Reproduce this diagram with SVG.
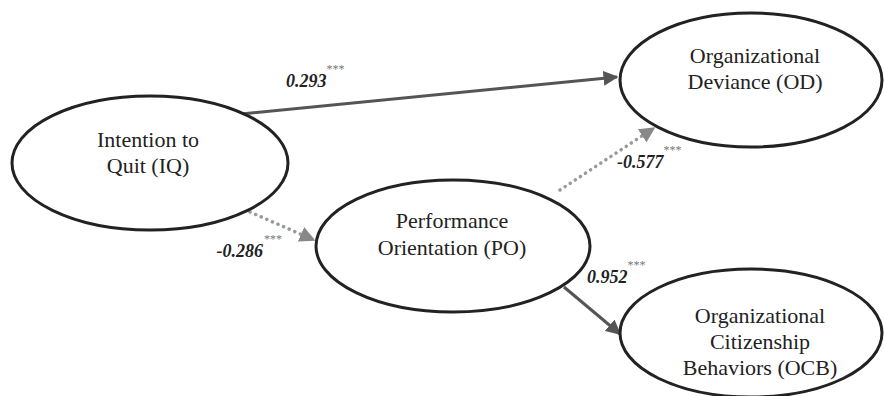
<svg xmlns="http://www.w3.org/2000/svg" width="884" height="396" viewBox="0 0 884 396">
<style>
.node{fill:#fff;stroke:#222;stroke-width:3}
.lbl{font-family:"Liberation Serif","Times New Roman",serif;font-size:22px;fill:#222;text-anchor:middle}
.coef{font-family:"Liberation Serif","Times New Roman",serif;font-size:18px;font-weight:bold;font-style:italic;fill:#222}
.star{font-family:"Liberation Serif","Times New Roman",serif;font-size:12px;font-weight:normal;font-style:normal;fill:#777}
.solid{fill:none;stroke:#555;stroke-width:3}
.dot{fill:none;stroke:#999;stroke-width:3.5;stroke-dasharray:0.1 6;stroke-linecap:round}
</style>
<defs>
<marker id="ah" viewBox="0 0 10 10" refX="9" refY="5" markerWidth="5" markerHeight="5" orient="auto" markerUnits="strokeWidth">
<path d="M0,0 L10,5 L0,10 z" fill="#555"/>
</marker>
<marker id="ahg" viewBox="0 0 10 10" refX="9" refY="5" markerWidth="4.5" markerHeight="4.5" orient="auto" markerUnits="strokeWidth">
<path d="M0,0 L10,5 L0,10 z" fill="#888"/>
</marker>
</defs>
<rect width="884" height="396" fill="#fff"/>
<g id="connectors">
<line class="solid" x1="241" y1="114" x2="617" y2="77" marker-end="url(#ah)"/>
<line class="dot" x1="250" y1="212" x2="314" y2="240" marker-end="url(#ahg)"/>
<line class="dot" x1="560" y1="190" x2="654" y2="128" marker-end="url(#ahg)"/>
<line class="solid" x1="564" y1="287" x2="620" y2="334" marker-end="url(#ah)"/>
</g>
<g id="IQ">
<ellipse class="node" cx="150" cy="163" rx="138" ry="67"/>
<text class="lbl" x="148" y="147">Intention to</text>
<text class="lbl" x="148" y="173">Quit (IQ)</text>
</g>
<g id="OD">
<ellipse class="node" cx="751" cy="80" rx="131" ry="67"/>
<text class="lbl" x="755" y="63">Organizational</text>
<text class="lbl" x="755" y="89">Deviance (OD)</text>
</g>
<g id="PO">
<ellipse class="node" cx="453" cy="246" rx="137" ry="66"/>
<text class="lbl" x="452" y="228">Performance</text>
<text class="lbl" x="452" y="255">Orientation (PO)</text>
</g>
<g id="OCB">
<ellipse class="node" cx="751" cy="333" rx="131" ry="64"/>
<text class="lbl" x="760" y="323">Organizational</text>
<text class="lbl" x="760" y="349">Citizenship</text>
<text class="lbl" x="760" y="375">Behaviors (OCB)</text>
</g>
<g id="labels">
<text class="coef" x="286" y="87">0.293<tspan class="star" dy="-14">***</tspan></text>
<text class="coef" x="263" y="257" text-anchor="end">-0.286</text>
<text class="star" x="264" y="243">***</text>
<text class="coef" x="617" y="168">-0.577<tspan class="star" dy="-14">***</tspan></text>
<text class="coef" x="587" y="283">0.952<tspan class="star" dy="-14">***</tspan></text>
</g>
</svg>
